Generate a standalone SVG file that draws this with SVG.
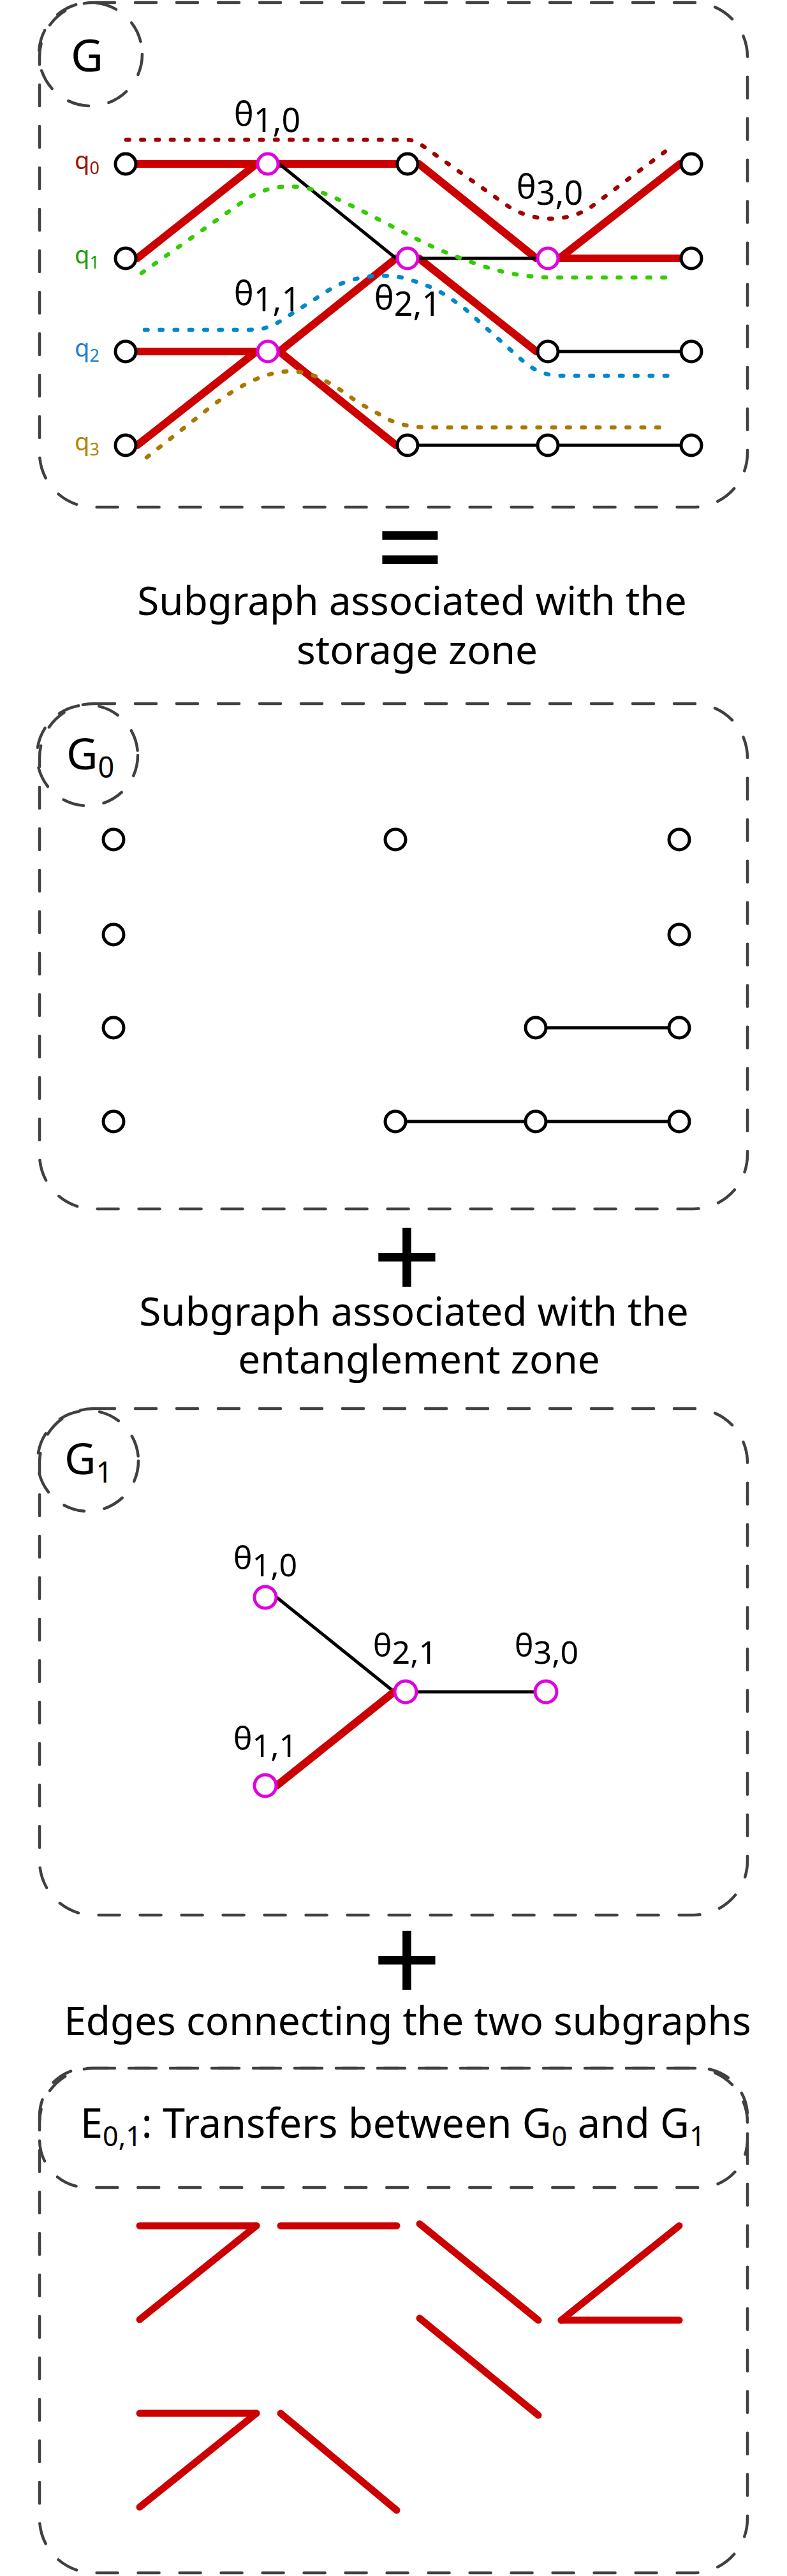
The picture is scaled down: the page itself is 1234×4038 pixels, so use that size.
<svg xmlns="http://www.w3.org/2000/svg" width="1234" height="4038" viewBox="0 0 1234 4038">
<style>
text{font-family:"Noto Sans","Open Sans",sans-serif;fill:#000}
.box{fill:none;stroke:#404040;stroke-width:4.5;stroke-dasharray:33 32;stroke-linecap:round}
.n{fill:#fff;stroke:#000;stroke-width:5}
.m{fill:#fff;stroke:#e000e0;stroke-width:5}
.r{stroke:#cc0000;stroke-width:12;stroke-linecap:round;fill:none}
.re{stroke:#cc0000;stroke-width:11;stroke-linecap:round;fill:none}
.k{stroke:#000;stroke-width:5;fill:none}
.dot{fill:none;stroke-width:6.5;stroke-dasharray:4.5 18.8;stroke-linecap:round}
.th{font-size:52px;text-anchor:middle}
.cap{font-size:62px;text-anchor:middle}
.op{font-size:190px;text-anchor:middle}
</style>

<!-- ===== G ===== -->
<g id="G">
<rect class="box" x="62" y="4" width="1110" height="791" rx="85"/>
<circle class="box" cx="142" cy="85" r="81"/>
<text x="111" y="112" font-size="70">G</text>
</g>
<g id="G-qlabels">
<text x="117" y="265" font-size="38" fill="#9b1500" style="fill:#9b1500">q<tspan font-size="27" dy="8">0</tspan></text>
<text x="117" y="413" font-size="38" style="fill:#1a9e00">q<tspan font-size="27" dy="8">1</tspan></text>
<text x="117" y="559" font-size="38" style="fill:#1a7fd4">q<tspan font-size="27" dy="8">2</tspan></text>
<text x="117" y="706" font-size="38" style="fill:#b08400">q<tspan font-size="27" dy="8">3</tspan></text>
</g>
<g id="G-edges">
<line class="r" x1="215" y1="257" x2="402" y2="257"/>
<line class="r" x1="215" y1="405" x2="402" y2="257"/>
<line class="r" x1="438" y1="257" x2="621" y2="257"/>
<line class="r" x1="657" y1="257" x2="841" y2="405"/>
<line class="r" x1="877" y1="405" x2="1066" y2="257"/>
<line class="r" x1="877" y1="405" x2="1066" y2="405"/>
<line class="r" x1="215" y1="551" x2="402" y2="551"/>
<line class="r" x1="215" y1="698" x2="402" y2="551"/>
<line class="r" x1="438" y1="551" x2="621" y2="405"/>
<line class="r" x1="438" y1="551" x2="621" y2="698"/>
<line class="r" x1="657" y1="405" x2="841" y2="551"/>
<line class="k" x1="438" y1="257" x2="621" y2="405"/>
<line class="k" x1="657" y1="405" x2="841" y2="405"/>
<line class="k" x1="877" y1="551" x2="1066" y2="551"/>
<line class="k" x1="657" y1="698" x2="841" y2="698"/>
<line class="k" x1="877" y1="698" x2="1066" y2="698"/>
</g>
<g id="G-paths">
<path class="dot" stroke="#a00000" d="M198,219 H636 C648,219 655,223 662,228 L795,322 C830,347 890,352 930,322 L1053,230"/>
<path class="dot" stroke="#33cc00" d="M222,428 L385,313 C420,290 460,287 500,300 C560,322 640,372 700,396 C760,420 800,433 860,435 H1058"/>
<path class="dot" stroke="#0088cc" d="M227,517 H380 C410,517 420,515 440,503 L520,452 C550,435 590,428 630,435 C680,448 700,462 730,485 L810,557 C835,580 850,588 880,589 H1058"/>
<path class="dot" stroke="#aa7700" d="M230,717 L330,638 C380,600 420,582 456,582 C490,582 520,600 560,630 L610,658 C630,667 650,670 675,670 H1043"/>
</g>
<g id="G-nodes">
<circle class="n" cx="197" cy="257" r="16"/>
<circle class="m" cx="420" cy="257" r="16"/>
<circle class="n" cx="639" cy="257" r="16"/>
<circle class="n" cx="1084" cy="257" r="16"/>
<circle class="n" cx="197" cy="405" r="16"/>
<circle class="m" cx="639" cy="405" r="16"/>
<circle class="m" cx="859" cy="405" r="16"/>
<circle class="n" cx="1084" cy="405" r="16"/>
<circle class="n" cx="197" cy="551" r="16"/>
<circle class="m" cx="420" cy="551" r="16"/>
<circle class="n" cx="859" cy="551" r="16"/>
<circle class="n" cx="1084" cy="551" r="16"/>
<circle class="n" cx="197" cy="698" r="16"/>
<circle class="n" cx="639" cy="698" r="16"/>
<circle class="n" cx="859" cy="698" r="16"/>
<circle class="n" cx="1084" cy="698" r="16"/>
</g>
<g id="G-theta">
<text class="th" x="419" y="197">θ<tspan dy="10">1,0</tspan></text>
<text class="th" x="419" y="478">θ<tspan dy="10">1,1</tspan></text>
<text class="th" x="639" y="485">θ<tspan dy="10">2,1</tspan></text>
<text class="th" x="862" y="311">θ<tspan dy="10">3,0</tspan></text>
</g>

<g id="eq"><text class="op" x="643" y="925">=</text></g>
<g id="caption-storage">
<text class="cap" x="646" y="964">Subgraph associated with the</text>
<text class="cap" x="654" y="1041">storage zone</text>
</g>

<!-- ===== G0 ===== -->
<g id="G0">
<rect class="box" x="62" y="1103" width="1110" height="792" rx="85"/>
<circle class="box" cx="137" cy="1184" r="79"/>
<text x="104" y="1206" font-size="68">G<tspan font-size="45" dy="13">0</tspan></text>
</g>
<g id="G0-edges">
<line class="k" x1="858" y1="1611" x2="1047" y2="1611"/>
<line class="k" x1="638" y1="1758" x2="822" y2="1758"/>
<line class="k" x1="858" y1="1758" x2="1047" y2="1758"/>
</g>
<g id="G0-nodes">
<circle class="n" cx="178" cy="1316" r="16"/>
<circle class="n" cx="620" cy="1316" r="16"/>
<circle class="n" cx="1065" cy="1316" r="16"/>
<circle class="n" cx="178" cy="1465" r="16"/>
<circle class="n" cx="1065" cy="1465" r="16"/>
<circle class="n" cx="178" cy="1611" r="16"/>
<circle class="n" cx="840" cy="1611" r="16"/>
<circle class="n" cx="1065" cy="1611" r="16"/>
<circle class="n" cx="178" cy="1758" r="16"/>
<circle class="n" cx="620" cy="1758" r="16"/>
<circle class="n" cx="840" cy="1758" r="16"/>
<circle class="n" cx="1065" cy="1758" r="16"/>
</g>

<g id="plus1"><text class="op" x="638" y="2038">+</text></g>
<g id="caption-entanglement">
<text class="cap" x="649" y="2078">Subgraph associated with the</text>
<text class="cap" x="657" y="2153">entanglement zone</text>
</g>

<!-- ===== G1 ===== -->
<g id="G1">
<rect class="box" x="62" y="2208" width="1110" height="794" rx="85"/>
<circle class="box" cx="138" cy="2290" r="79"/>
<text x="101" y="2311" font-size="68">G<tspan font-size="45" dy="13">1</tspan></text>
</g>
<g id="G1-edges">
<line class="k" x1="434" y1="2504" x2="618" y2="2652"/>
<line class="k" x1="654" y1="2652" x2="838" y2="2652"/>
<line class="r" x1="434" y1="2799" x2="618" y2="2652"/>
</g>
<g id="G1-nodes">
<circle class="m" cx="416" cy="2504" r="17"/>
<circle class="m" cx="416" cy="2799" r="17"/>
<circle class="m" cx="636" cy="2652" r="17"/>
<circle class="m" cx="856" cy="2652" r="17"/>
</g>
<g id="G1-theta">
<text class="th" x="416" y="2460" font-size="50" style="font-size:50px">θ<tspan dy="11">1,0</tspan></text>
<text class="th" x="416" y="2743" style="font-size:50px">θ<tspan dy="11">1,1</tspan></text>
<text class="th" x="635" y="2597" style="font-size:50px">θ<tspan dy="11">2,1</tspan></text>
<text class="th" x="857" y="2597" style="font-size:50px">θ<tspan dy="11">3,0</tspan></text>
</g>

<g id="plus2"><text class="op" x="638" y="3140">+</text></g>
<g id="caption-edges">
<text class="cap" x="639" y="3190">Edges connecting the two subgraphs</text>
</g>

<!-- ===== E01 ===== -->
<g id="E01">
<rect class="box" x="62" y="3242" width="1110" height="791" rx="85"/>
<rect class="box" x="62" y="3242" width="1110" height="187" rx="75"/>
<text x="126" y="3351" font-size="63">E<tspan font-size="43" dy="13">0,1</tspan><tspan dy="-13">: Transfers between G</tspan><tspan font-size="43" dy="13">0</tspan><tspan dy="-13"> and G</tspan><tspan font-size="43" dy="13">1</tspan></text>
</g>
<g id="E01-edges">
<line class="re" x1="219" y1="3489" x2="402" y2="3489"/>
<line class="re" x1="402" y1="3489" x2="219" y2="3636"/>
<line class="re" x1="440" y1="3489" x2="622" y2="3489"/>
<line class="re" x1="658" y1="3486" x2="844" y2="3637"/>
<line class="re" x1="1065" y1="3489" x2="880" y2="3637"/>
<line class="re" x1="880" y1="3637" x2="1065" y2="3637"/>
<line class="re" x1="658" y1="3634" x2="844" y2="3786"/>
<line class="re" x1="219" y1="3783" x2="402" y2="3783"/>
<line class="re" x1="402" y1="3783" x2="219" y2="3930"/>
<line class="re" x1="440" y1="3783" x2="622" y2="3935"/>
</g>
</svg>
